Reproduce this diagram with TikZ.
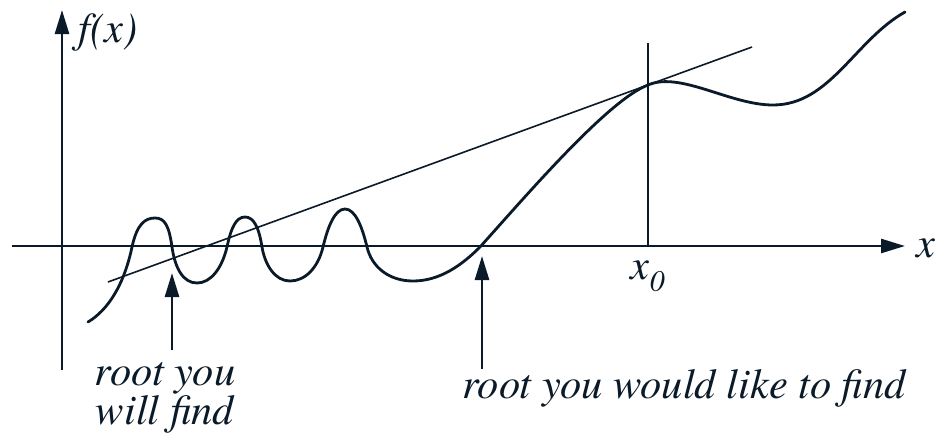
\documentclass[tikz,border=0pt]{standalone}
\usepackage{fontspec}
\newfontfamily\tmsit{texgyretermes-italic.otf}
\usetikzlibrary{arrows.meta}
\definecolor{ink}{HTML}{0A1A28}
\begin{document}
\begin{tikzpicture}[x=1pt,y=-1pt,
  axisline/.style={draw=ink,line width=2.6pt},
  thinline/.style={draw=ink,line width=1.6pt},
  curveline/.style={draw=ink,line width=2.8pt,line cap=round,line join=round},
  tip/.style={-{Triangle[length=24pt,width=14pt]}},
  lbl/.style={text=ink,font=\fontsize{42.5}{35}\tmsit,inner sep=0pt}]
\useasboundingbox[fill=white] (0,0) rectangle (936,437);
% axes
\coordinate (xs) at (12,246);
\coordinate (xe) at (905,246);
\coordinate (ys) at (62,370);
\coordinate (ye) at (62,10);
\draw[axisline,tip,fill=ink] (xs) -- (xe);
\draw[axisline,tip,fill=ink] (ys) -- (ye);
% tangent and x0 line
\coordinate (ta) at (108,282);
\coordinate (tb) at (752,47);
\draw[thinline] (ta) -- (tb);
\coordinate (va) at (648,43);
\coordinate (vb) at (648,246);
\draw[thinline] (va) -- (vb);
% curve
\draw[curveline] (88,322)
 .. controls (108,310) and (124,285) .. (132,247)
 .. controls (137,224) and (145,218) .. (155,218)
 .. controls (165,218) and (169,226) .. (172,247)
 .. controls (175,268) and (183,283) .. (197,283)
 .. controls (211,283) and (222,268) .. (227,247)
 .. controls (231,228) and (236,217) .. (245,217)
 .. controls (254,217) and (259,228) .. (262,247)
 .. controls (265,265) and (275,281) .. (290,281)
 .. controls (305,281) and (318,268) .. (323,247)
 .. controls (328,226) and (335,209) .. (345,209)
 .. controls (355,209) and (362,226) .. (367,247)
 .. controls (372,268) and (390,281) .. (413,281)
 .. controls (440,281) and (462,265) .. (480,247)
 .. controls (525,197) and (608,100) .. (648,85)
 .. controls (680,71) and (730,105) .. (773,105)
 .. controls (830,105) and (855,40) .. (905,12);
% arrows
\coordinate (a1s) at (172,350);
\coordinate (a1e) at (172,273);
\draw[axisline,tip,fill=ink] (a1s) -- (a1e);
\coordinate (a2s) at (482,369);
\coordinate (a2e) at (482,256);
\draw[axisline,tip,fill=ink] (a2s) -- (a2e);
% labels
\node[lbl] (fx) at (108,32) {f(x)};
\node[lbl] (xl) at (926,248) {x};
\node[lbl] (x0) at (648,276) {x\textsubscript{0}};
\node[lbl,align=center] (r1) at (165,398) {root you\\will find};
\node[lbl] (r2) at (684,388) {root you would like to find};
\end{tikzpicture}
\end{document}
